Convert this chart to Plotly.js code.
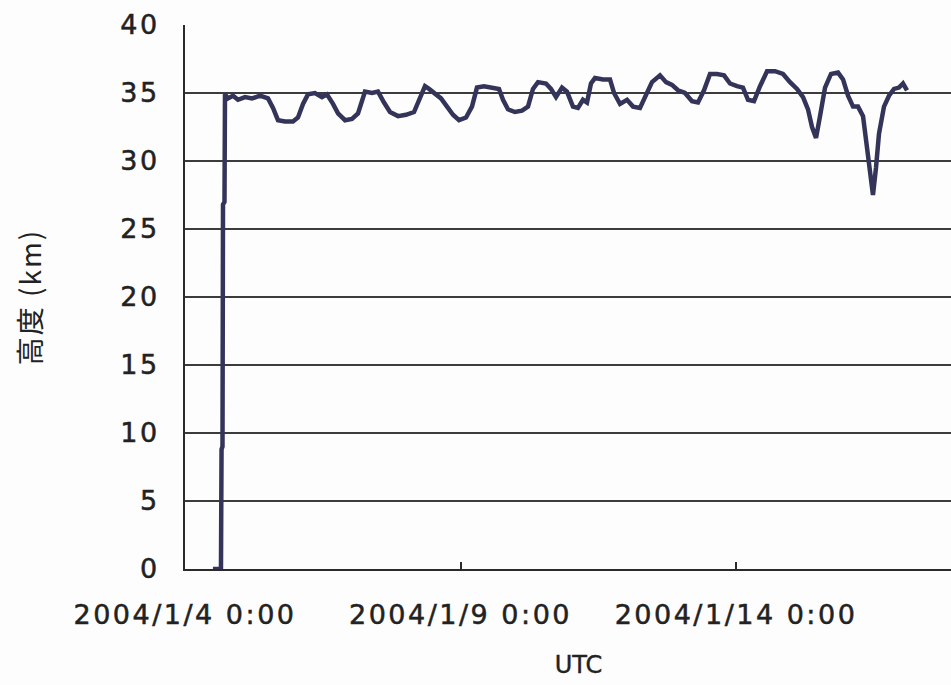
<!DOCTYPE html>
<html>
<head>
<meta charset="utf-8">
<script src="https://cdn.plot.ly/plotly-3.0.1.min.js"></script>
<style>
  html, body { margin: 0; padding: 0; background: #fdfdfd; overflow: hidden; }
  #chart { width: 972px; height: 685px; }
  .xtick text, .ytick text { letter-spacing: 2.5px; stroke: #222222; stroke-width: 0.5px; }
  .xtitle { stroke: #222222; stroke-width: 0.4px; }
  .ytitle { letter-spacing: 2px; }
</style>
</head>
<body>
<div id="chart"></div>
<script>
// Balloon flight altitude (km) against UTC time
const times = [
  '2004-01-04 12:10', '2004-01-04 15:40', '2004-01-04 15:55', '2004-01-04 16:20',
  '2004-01-04 16:33', '2004-01-04 17:12', '2004-01-04 17:25', '2004-01-04 18:44',
  '2004-01-04 20:54', '2004-01-04 23:05', '2004-01-05 02:08', '2004-01-05 05:11',
  '2004-01-05 08:40', '2004-01-05 12:09', '2004-01-05 14:20', '2004-01-05 16:30',
  '2004-01-05 19:34', '2004-01-05 23:02', '2004-01-06 01:13', '2004-01-06 03:24',
  '2004-01-06 05:34', '2004-01-06 08:37', '2004-01-06 11:40', '2004-01-06 13:51',
  '2004-01-06 16:28', '2004-01-06 18:39', '2004-01-06 21:42', '2004-01-07 00:44',
  '2004-01-07 03:21', '2004-01-07 05:06', '2004-01-07 06:24', '2004-01-07 09:27',
  '2004-01-07 12:04', '2004-01-07 14:41', '2004-01-07 17:18', '2004-01-07 20:47',
  '2004-01-08 00:16', '2004-01-08 03:45', '2004-01-08 06:21', '2004-01-08 08:32',
  '2004-01-08 10:17', '2004-01-08 12:54', '2004-01-08 15:31', '2004-01-08 18:08',
  '2004-01-08 20:44', '2004-01-08 23:21', '2004-01-09 02:24', '2004-01-09 05:00',
  '2004-01-09 07:11', '2004-01-09 10:14', '2004-01-09 13:43', '2004-01-09 16:46',
  '2004-01-09 18:31', '2004-01-09 20:41', '2004-01-09 23:44', '2004-01-10 02:47',
  '2004-01-10 05:24', '2004-01-10 07:34', '2004-01-10 09:45', '2004-01-10 13:14',
  '2004-01-10 15:25', '2004-01-10 17:36', '2004-01-10 20:13', '2004-01-10 22:23',
  '2004-01-11 01:00', '2004-01-11 03:10', '2004-01-11 05:21', '2004-01-11 07:06',
  '2004-01-11 08:50', '2004-01-11 10:35', '2004-01-11 14:04', '2004-01-11 17:07',
  '2004-01-11 18:52', '2004-01-11 21:29', '2004-01-12 00:32', '2004-01-12 03:09',
  '2004-01-12 06:11', '2004-01-12 08:48', '2004-01-12 11:25', '2004-01-12 14:54',
  '2004-01-12 17:31', '2004-01-12 20:08', '2004-01-12 22:45', '2004-01-13 01:48',
  '2004-01-13 04:50', '2004-01-13 07:27', '2004-01-13 10:04', '2004-01-13 12:41',
  '2004-01-13 15:44', '2004-01-13 18:47', '2004-01-13 21:24', '2004-01-14 00:27',
  '2004-01-14 03:03', '2004-01-14 05:14', '2004-01-14 07:51', '2004-01-14 10:28',
  '2004-01-14 13:31', '2004-01-14 17:00', '2004-01-14 20:29', '2004-01-14 23:32',
  '2004-01-15 02:35', '2004-01-15 05:12', '2004-01-15 07:22', '2004-01-15 09:07',
  '2004-01-15 10:52', '2004-01-15 12:36', '2004-01-15 14:47', '2004-01-15 17:24',
  '2004-01-15 20:27', '2004-01-15 22:38', '2004-01-16 00:48', '2004-01-16 02:59',
  '2004-01-16 05:09', '2004-01-16 07:20', '2004-01-16 09:04', '2004-01-16 10:22',
  '2004-01-16 11:40', '2004-01-16 12:59', '2004-01-16 14:17', '2004-01-16 16:28',
  '2004-01-16 18:39', '2004-01-16 20:50', '2004-01-16 23:00', '2004-01-17 00:45',
  '2004-01-17 02:30'
];

const altitudeKm = [
  0, 0, 8.8, 9.0,
  26.8, 27.0, 34.9, 34.6,
  34.8, 34.5, 34.7, 34.6,
  34.8, 34.6, 33.9, 33.0,
  32.9, 32.9, 33.2, 34.2,
  34.9, 35.0, 34.7, 34.9,
  34.2, 33.5, 33.0, 33.1,
  33.5, 34.4, 35.1, 35.0,
  35.1, 34.3, 33.6, 33.3,
  33.4, 33.6, 34.6, 35.5,
  35.3, 35.0, 34.6, 34.0,
  33.4, 33.0, 33.2, 34.0,
  35.4, 35.5, 35.4, 35.3,
  34.5, 33.8, 33.6, 33.7,
  34.0, 35.3, 35.8, 35.7,
  35.3, 34.7, 35.4, 35.1,
  34.0, 33.9, 34.5, 34.3,
  35.7, 36.1, 36.0, 36.0,
  35.0, 34.2, 34.5, 34.0,
  33.9, 34.8, 35.8, 36.3,
  35.8, 35.6, 35.2, 35.0,
  34.4, 34.3, 35.2, 36.4,
  36.4, 36.3, 35.7, 35.5,
  35.4, 34.5, 34.4, 35.5,
  36.6, 36.6, 36.4, 35.8,
  35.3, 34.7, 33.8, 32.5,
  31.7, 33.3, 35.4, 36.4,
  36.5, 36.0, 34.8, 34.0,
  34.0, 33.3, 31.0, 28.8,
  27.5, 29.5, 32.0, 34.0,
  34.8, 35.3, 35.4, 35.7,
  35.2
];

const xTickDates = ['2004-01-04 00:00', '2004-01-09 00:00', '2004-01-14 00:00'];
const xTickLabels = ['2004/1/4 0:00', '2004/1/9 0:00', '2004/1/14 0:00'];
const yTickValues = [0, 5, 10, 15, 20, 25, 30, 35, 40];

const inkColor = '#2a2a2a';
const tickFont = { family: 'DejaVu Sans', size: 27, color: '#222222' };

const trace = {
  type: 'scatter',
  mode: 'lines',
  x: times,
  y: altitudeKm,
  line: { color: '#34345a', width: 4.5 },
  hoverinfo: 'x+y'
};

const layout = {
  width: 972,
  height: 685,
  margin: { l: 185, r: 0, t: 25, b: 116 },
  paper_bgcolor: '#fdfdfd',
  plot_bgcolor: '#fdfdfd',
  showlegend: false,
  xaxis: {
    type: 'date',
    range: ['2004-01-04 00:00', '2004-01-18 06:48'],
    tickvals: xTickDates,
    ticktext: xTickLabels,
    ticks: 'inside',
    ticklen: 7,
    tickwidth: 2,
    tickcolor: inkColor,
    showgrid: false,
    zeroline: false,
    showline: true,
    linecolor: inkColor,
    linewidth: 2,
    tickfont: tickFont,
    ticklabelstandoff: 21,
    title: {
      text: 'UTC',
      font: { family: 'DejaVu Sans', size: 24, color: '#222222' },
      standoff: 27
    }
  },
  yaxis: {
    range: [0, 40],
    tickvals: yTickValues,
    ticks: '',
    showgrid: true,
    gridcolor: '#3c3c3c',
    gridwidth: 2,
    zeroline: false,
    showline: true,
    linecolor: inkColor,
    linewidth: 2,
    tickfont: tickFont,
    ticklabelstandoff: 18,
    title: {
      text: '高度 (km)',
      font: { family: 'Noto Sans CJK JP', size: 28, color: '#222222' },
      standoff: 70
    }
  }
};

Plotly.newPlot('chart', [trace], layout, { displayModeBar: false, staticPlot: true });
</script>
</body>
</html>
